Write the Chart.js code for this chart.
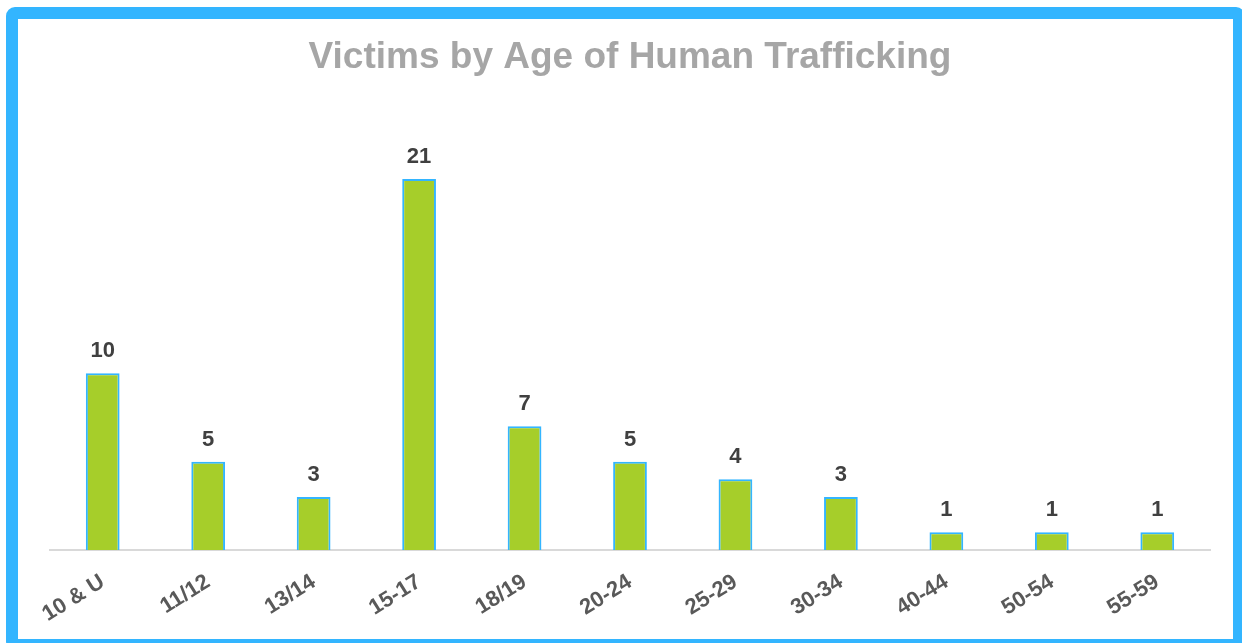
<!DOCTYPE html>
<html>
<head>
<meta charset="utf-8">
<script src="https://cdn.jsdelivr.net/npm/chart.js@4"></script>
<style>
  html, body { margin: 0; padding: 0; background: #ffffff; overflow: hidden; }
  #wrap { position: absolute; left: 0; top: 0; width: 1242px; height: 643px; }
  #frame { position: absolute; left: 6px; top: 7px; width: 1215px; height: 620px;
           border: 12px solid #33b5ff; border-radius: 9px; pointer-events: none; }
</style>
</head>
<body>
<div id="wrap"><canvas id="c" width="1242" height="643"></canvas></div>
<div id="frame"></div>
<script>
const categories = ['10 & U', '11/12', '13/14', '15-17', '18/19', '20-24', '25-29', '30-34', '40-44', '50-54', '55-59'];
const victims = [10, 5, 3, 21, 7, 5, 4, 3, 1, 1, 1];
const chartTitle = 'Victims by Age of Human Trafficking';

const valueLabels = {
  id: 'valueLabels',
  afterDatasetsDraw(chart) {
    const ctx = chart.ctx;
    const meta = chart.getDatasetMeta(0);
    ctx.save();
    ctx.font = 'bold 22px "Liberation Sans", Arial, sans-serif';
    ctx.fillStyle = '#404040';
    ctx.textAlign = 'center';
    ctx.textBaseline = 'alphabetic';
    meta.data.forEach((bar, i) => {
      ctx.fillText(String(chart.data.datasets[0].data[i]), bar.x, bar.y - 16);
    });
    ctx.restore();
  }
};

new Chart(document.getElementById('c'), {
  type: 'bar',
  data: {
    labels: categories,
    datasets: [{
      data: victims,
      backgroundColor: '#a6ce2a',
      borderColor: '#33b5ff',
      borderWidth: 2,
      borderSkipped: 'bottom',
      categoryPercentage: 1,
      barPercentage: 0.32
    }]
  },
  options: {
    responsive: false,
    animation: false,
    layout: { padding: { left: 50, right: 32, top: 0, bottom: 0 } },
    plugins: {
      legend: { display: false },
      tooltip: { enabled: false },
      title: {
        display: true,
        text: chartTitle,
        color: '#a6a6a6',
        font: { family: '"Liberation Sans", Arial, sans-serif', size: 37, weight: 'bold' },
        padding: { top: 36, bottom: 28 }
      }
    },
    scales: {
      x: {
        grid: { display: false, drawTicks: false },
        border: { display: true, color: '#d9d9d9', width: 2 },
        ticks: {
          color: '#595959',
          font: { family: '"Liberation Sans", Arial, sans-serif', size: 22, weight: 'bold' },
          minRotation: 32,
          maxRotation: 32,
          autoSkip: false,
          padding: 19
        },
        afterFit(scale) { scale.height = 93; }
      },
      y: {
        display: false,
        min: 0,
        max: 25
      }
    }
  },
  plugins: [valueLabels]
});
</script>
</body>
</html>
